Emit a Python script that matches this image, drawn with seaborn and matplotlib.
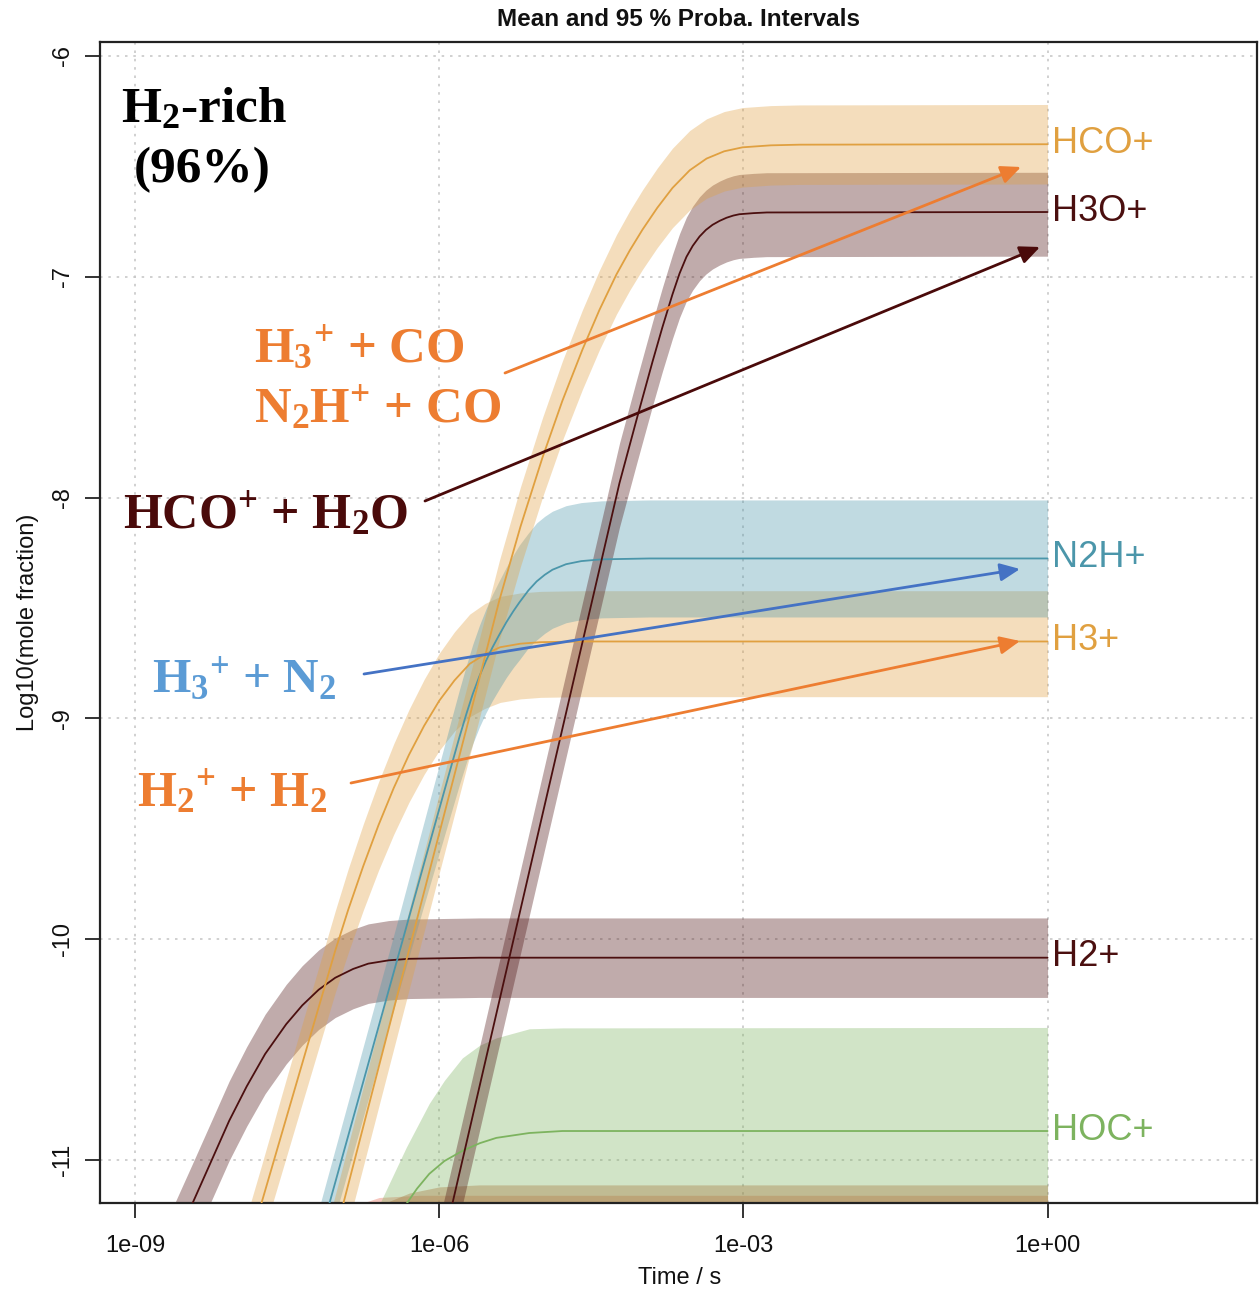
import numpy as np
import pandas as pd
import matplotlib
matplotlib.use("Agg")
import matplotlib.pyplot as plt
from matplotlib.ticker import NullLocator
import seaborn as sns

# ---------------- data (log10 time in s, log10 mole fraction) ----------------
hco_logt = [-7.18, -6.948, -6.395, -6.0, -5.655, -5.408, -5.20, -4.983, -4.786, -4.588, -4.42, -4.253, -4.12, -3.996,
            -3.85, -3.70, -3.53, -3.364, -3.19, -3.009, -2.73, -2.446, 0.0]
hco_mean = [-11.61, -11.20, -10.22, -9.52, -8.91, -8.466, -8.133, -7.82, -7.562, -7.33, -7.15, -6.99, -6.88, -6.787,
            -6.688, -6.598, -6.518, -6.465, -6.432, -6.414, -6.405, -6.402, -6.40]
hco_hi = [-11.43, -11.02, -10.04, -9.34, -8.73, -8.286, -7.953, -7.64, -7.382, -7.15, -6.97, -6.81, -6.70, -6.607,
          -6.508, -6.418, -6.338, -6.285, -6.252, -6.234, -6.225, -6.222, -6.22]
hco_lo = [-11.79, -11.38, -10.40, -9.70, -9.09, -8.646, -8.313, -8.00, -7.742, -7.51, -7.33, -7.17, -7.06, -6.967,
          -6.868, -6.778, -6.698, -6.645, -6.612, -6.594, -6.585, -6.582, -6.58]

h3o_logt = [-6.08, -5.872, -5.408, -4.944, -4.618, -4.223, -4.05, -3.897, -3.80, -3.70, -3.63, -3.562, -3.50, -3.433,
            -3.37, -3.305, -3.235, -3.167, -3.10, -3.04, -2.90, -2.77, 0.0]
h3o_mean = [-11.61, -11.20, -10.28, -9.36, -8.715, -7.935, -7.64, -7.385, -7.23, -7.08, -6.985, -6.91, -6.86, -6.818,
            -6.788, -6.765, -6.747, -6.733, -6.723, -6.717, -6.712, -6.709, -6.707]
h3o_hi = [-11.43, -11.02, -10.10, -9.18, -8.535, -7.755, -7.46, -7.205, -7.05, -6.90, -6.805, -6.73, -6.68, -6.638,
          -6.608, -6.585, -6.567, -6.553, -6.543, -6.537, -6.532, -6.529, -6.527]
h3o_lo = [-11.81, -11.40, -10.48, -9.56, -8.915, -8.135, -7.84, -7.585, -7.43, -7.28, -7.185, -7.11, -7.06, -7.018,
          -6.988, -6.965, -6.947, -6.933, -6.923, -6.917, -6.912, -6.909, -6.907]

n2h_logt = [-7.33, -7.086, -6.395, -6.128, -5.872, -5.80, -5.733, -5.67, -5.605, -5.54, -5.477, -5.41, -5.339, -5.27,
            -5.21, -5.12, -5.04, -4.96, -4.884, -4.75, -4.60, -4.40, -3.927, 0.0]
n2h_mean = [-11.60, -11.20, -10.06, -9.62, -9.20, -9.083, -8.98, -8.89, -8.81, -8.74, -8.68, -8.623, -8.565, -8.515,
            -8.475, -8.42, -8.38, -8.35, -8.327, -8.302, -8.288, -8.28, -8.276, -8.276]
n2h_hi = [-11.46, -11.05, -9.89, -9.43, -8.99, -8.868, -8.76, -8.665, -8.58, -8.505, -8.44, -8.378, -8.315, -8.26,
          -8.215, -8.16, -8.115, -8.085, -8.062, -8.037, -8.023, -8.015, -8.011, -8.011]
n2h_lo = [-11.74, -11.35, -10.23, -9.81, -9.41, -9.298, -9.20, -9.115, -9.04, -8.975, -8.92, -8.868, -8.815, -8.77,
          -8.735, -8.68, -8.645, -8.615, -8.592, -8.567, -8.553, -8.545, -8.541, -8.541]

h3_logt = [-8.0, -7.757, -7.382, -7.027, -6.90, -6.75, -6.60, -6.45, -6.30, -6.15, -6.00, -5.85, -5.70, -5.55, -5.40,
           -5.20, -5.00, -4.60, 0.0]
h3_mean = [-11.58, -11.20, -10.61, -10.053, -9.869, -9.669, -9.484, -9.316, -9.166, -9.034, -8.92, -8.828, -8.753,
           -8.71, -8.678, -8.662, -8.655, -8.652, -8.652]
h3_hi = [-11.41, -11.03, -10.43, -9.873, -9.684, -9.479, -9.289, -9.116, -8.961, -8.824, -8.705, -8.608, -8.528,
         -8.48, -8.448, -8.432, -8.425, -8.422, -8.422]
h3_lo = [-11.75, -11.37, -10.79, -10.243, -10.064, -9.869, -9.689, -9.526, -9.381, -9.254, -9.145, -9.058, -8.993,
         -8.955, -8.928, -8.912, -8.905, -8.902, -8.902]

h2_logt = [-8.83, -8.438, -8.25, -8.073, -7.90, -7.718, -7.51, -7.352, -7.19, -7.027, -6.85, -6.701, -6.50, -6.296,
           -5.605, 0.0]
h2_mean = [-11.60, -11.20, -11.006, -10.823, -10.667, -10.52, -10.385, -10.30, -10.229, -10.175, -10.135, -10.111,
           -10.096, -10.089, -10.084, -10.084]
h2_hi = [-11.42, -11.02, -10.826, -10.643, -10.487, -10.34, -10.205, -10.12, -10.049, -9.995, -9.955, -9.931, -9.916,
         -9.909, -9.904, -9.904]
h2_lo = [-11.78, -11.38, -11.186, -11.003, -10.847, -10.70, -10.565, -10.48, -10.409, -10.355, -10.315, -10.291,
         -10.276, -10.269, -10.264, -10.264]

hoc_logt = [-6.9, -6.6, -6.326, -6.22, -6.099, -5.95, -5.773, -5.60, -5.437, -5.112, -4.786, 0.0]
hoc_mean = [-11.62, -11.40, -11.20, -11.13, -11.063, -11.005, -10.959, -10.924, -10.90, -10.878, -10.869, -10.869]
hoc_hi = [-11.52, -11.21, -10.943, -10.85, -10.744, -10.64, -10.538, -10.48, -10.447, -10.406, -10.402, -10.40]
hoc_lo = [-12.10, -11.85, -11.66, -11.60, -11.52, -11.47, -11.42, -11.39, -11.37, -11.35, -11.34, -11.34]

x1_logt = [-6.9, -6.562, -6.296, -6.0, -5.605, 0.0]
x1_mean = [-11.60, -11.50, -11.45, -11.42, -11.41, -11.41]
x1_hi = [-11.32, -11.20, -11.15, -11.122, -11.113, -11.113]
x1_lo = [-11.90, -11.80, -11.75, -11.72, -11.71, -11.71]

x2_logt = [-7.0, -6.79, -6.592, -6.197, -5.8, 0.0]
x2_mean = [-11.60, -11.50, -11.46, -11.45, -11.45, -11.45]
x2_hi = [-11.28, -11.20, -11.17, -11.16, -11.16, -11.16]
x2_lo = [-11.90, -11.80, -11.76, -11.75, -11.75, -11.75]

species = ["x2", "x1", "HOC+", "H2+", "H3+", "N2H+", "H3O+", "HCO+"]
series = {
    "HCO+": (hco_logt, hco_mean, hco_lo, hco_hi),
    "H3O+": (h3o_logt, h3o_mean, h3o_lo, h3o_hi),
    "N2H+": (n2h_logt, n2h_mean, n2h_lo, n2h_hi),
    "H3+": (h3_logt, h3_mean, h3_lo, h3_hi),
    "H2+": (h2_logt, h2_mean, h2_lo, h2_hi),
    "HOC+": (hoc_logt, hoc_mean, hoc_lo, hoc_hi),
    "x1": (x1_logt, x1_mean, x1_lo, x1_hi),
    "x2": (x2_logt, x2_mean, x2_lo, x2_hi),
}
colors = {
    "HCO+": "#E0A040", "H3+": "#E0A040",
    "H3O+": "#4B0F0F", "H2+": "#4B0F0F",
    "N2H+": "#4B96AA", "HOC+": "#7DB35F",
    "x1": "#B44D1D", "x2": "#E8604A",
}
labelled = ["HCO+", "H3O+", "N2H+", "H3+", "H2+", "HOC+"]

rows = []
for sp in species:
    lt, m, lo, hi = series[sp]
    for a, b in zip(lt, m):
        rows.append({"species": sp, "time": 10.0 ** a, "mean": b})
df = pd.DataFrame(rows)

# ---------------- style ----------------
sns.set_theme(style="white")
plt.rcParams["font.family"] = ["Liberation Sans", "DejaVu Sans"]
plt.rcParams["mathtext.fontset"] = "custom"
plt.rcParams["mathtext.rm"] = "Liberation Serif"
plt.rcParams["mathtext.bf"] = "Liberation Serif:bold"
plt.rcParams["mathtext.it"] = "Liberation Serif:italic"

W, H = 1259, 1289
fig = plt.figure(figsize=(W / 100, H / 100), dpi=100)
ax = fig.add_axes([100 / W, 1 - 1203 / H, 1157 / W, 1161 / H])
ax.set_xscale("log")

for sp in species:
    lt, m, lo, hi = series[sp]
    t = 10.0 ** np.array(lt)
    ax.fill_between(t, lo, hi, color=colors[sp], alpha=0.35, linewidth=0, zorder=2)

sns.lineplot(data=df, x="time", y="mean", hue="species", palette=colors,
             estimator=None, sort=False, legend=False, linewidth=1.3, ax=ax, zorder=3)

ax.set_xlim(10 ** -9.347, 10 ** 2.066)
ax.set_ylim(-11.195, -5.937)

ax.set_xticks([1e-9, 1e-6, 1e-3, 1.0])
ax.set_xticklabels(["1e-09", "1e-06", "1e-03", "1e+00"])
ax.xaxis.set_minor_locator(NullLocator())
ax.set_yticks([-6, -7, -8, -9, -10, -11])
ax.set_yticklabels(["-6", "-7", "-8", "-9", "-10", "-11"])
ax.tick_params(axis="both", which="major", direction="out", length=11, width=1.4,
               color="#333333", labelsize=17, labelcolor="#111111")
ax.tick_params(axis="x", pad=12, bottom=True)
ax.tick_params(axis="y", pad=8, left=True)
for lbl in ax.get_yticklabels():
    lbl.set_rotation(90)
    lbl.set_va("center")

ax.grid(True, which="major", linestyle=(0, (1.5, 3.5)), color="#c8c8c8", linewidth=1.2)
ax.set_axisbelow(True)
for s in ax.spines.values():
    s.set_visible(True)
    s.set_color("#222222")
    s.set_linewidth(1.6)

ax.set_xlabel("Time / s", fontsize=17, color="#111111")
ax.xaxis.set_label_coords((680 - 100) / 1157, -(1278 - 1203) / 1161)
ax.xaxis.label.set_va("center")
ax.set_ylabel("Log10(mole fraction)", fontsize=17, color="#111111")
ax.yaxis.set_label_coords((28 - 100) / 1157, (1203 - 622) / 1161)
ax.yaxis.label.set_va("center")
ax.yaxis.label.set_ha("center")

ax.text((679 - 100) / 1157, (1203 - 20) / 1161, "Mean and 95 % Proba. Intervals", transform=ax.transAxes,
        ha="center", va="center", fontsize=17.5, fontweight="bold", color="#111111")

# right-hand species labels
for sp in labelled:
    lt, m, lo, hi = series[sp]
    ax.annotate(sp, xy=(10.0 ** lt[-1], m[-1]), xytext=(3.5, 0.5), textcoords="offset points",
                ha="left", va="center", fontsize=26, color=colors[sp], zorder=5)

def axf(px, py):
    return ((px - 100) / 1157, (1203 - py) / 1161)

serif = "Liberation Serif"
orange = "#ED7D31"
maroon = "#4A0A0A"
blue = "#5B9BD5"

ax.text(*axf(121, 122), "H$_\\mathbf{2}$-rich", transform=ax.transAxes, ha="left", va="baseline",
        fontsize=37, fontweight="bold", family=serif, color="black", zorder=6)
ax.text(*axf(134, 182), "(96%)", transform=ax.transAxes, ha="left", va="baseline",
        fontsize=37, fontweight="bold", family=serif, color="black", zorder=6)

ax.text(*axf(254, 362), "H$_\\mathbf{3}{}^\\mathbf{+}$ + CO", transform=ax.transAxes, ha="left",
        va="baseline", fontsize=36.5, fontweight="bold", family=serif, color=orange, zorder=6)
ax.text(*axf(254, 422), "N$_\\mathbf{2}$H$^\\mathbf{+}$ + CO", transform=ax.transAxes, ha="left",
        va="baseline", fontsize=36.5, fontweight="bold", family=serif, color=orange, zorder=6)
ax.text(*axf(123, 528), "HCO$^\\mathbf{+}$ + H$_\\mathbf{2}$O", transform=ax.transAxes, ha="left",
        va="baseline", fontsize=36, fontweight="bold", family=serif, color=maroon, zorder=6)
ax.text(*axf(152, 693), "H$_\\mathbf{3}{}^\\mathbf{+}$ + N$_\\mathbf{2}$", transform=ax.transAxes, ha="left",
        va="baseline", fontsize=35.5, fontweight="bold", family=serif, color=blue, zorder=6)
ax.text(*axf(137, 806), "H$_\\mathbf{2}{}^\\mathbf{+}$ + H$_\\mathbf{2}$", transform=ax.transAxes, ha="left",
        va="baseline", fontsize=36, fontweight="bold", family=serif, color=orange, zorder=6)

arrows = [
    ((505, 373), (1021, 167), orange),
    ((425, 501), (1040, 247), maroon),
    ((364, 674), (1020, 569), "#4472C4"),
    ((351, 783), (1020, 641), orange),
]
for (sx, sy), (ex, ey), c in arrows:
    ax.annotate("", xy=axf(ex, ey), xytext=axf(sx, sy), xycoords="axes fraction",
                textcoords="axes fraction",
                arrowprops=dict(arrowstyle="-|>,head_length=1.0,head_width=0.45", color=c,
                                lw=2.0, shrinkA=0, shrinkB=0, mutation_scale=12), zorder=6)

fig.savefig("out.png", dpi=100)
